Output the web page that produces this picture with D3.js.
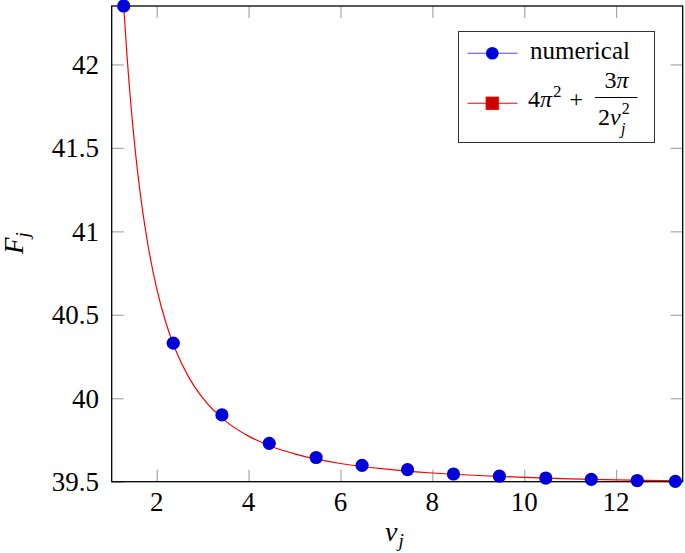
<!DOCTYPE html>
<html>
<head>
<meta charset="utf-8">
<script src="https://cdn.jsdelivr.net/npm/d3@7"></script>
<style>
  html, body { margin: 0; padding: 0; background: #fff; }
  svg { display: block; }
  text { font-family: "Liberation Serif", "DejaVu Serif", "Noto Serif", serif; fill: #000; }
</style>
</head>
<body>
<svg id="chart" width="685" height="553"></svg>
<script>
// ---- data ----
const nuValues = [1.281, 2.36, 3.42, 4.45, 5.47, 6.47, 7.46, 8.46, 9.46, 10.47, 11.46, 12.46, 13.29];
const numericalF = [42.35, 40.33, 39.90, 39.73, 39.645, 39.598, 39.572, 39.546, 39.533, 39.522, 39.514, 39.507, 39.502];

const curveNu = [1.281, 1.35, 1.4, 1.5, 1.6, 1.7, 1.8, 2.0, 2.2, 2.4, 2.7, 3.0, 3.5, 4.0, 4.5, 5.0, 6.0, 7.0, 8.0, 9.0, 10.0, 11.0, 12.0, 13.3];
const curveF = [42.350, 42.064, 41.883, 41.573, 41.319, 41.109, 40.933, 40.657, 40.452, 40.297, 40.125, 40.002, 39.863, 39.773, 39.711, 39.667, 39.609, 39.575, 39.552, 39.537, 39.526, 39.517, 39.511, 39.505];

const xTicks = [2, 4, 6, 8, 10, 12];
const yTicks = [39.5, 40, 40.5, 41, 41.5, 42];
const yTickLabels = ["39.5", "40", "40.5", "41", "41.5", "42"];
const seriesNames = ["numerical", "formula"];

// ---- layout ----
const svg = d3.select("#chart");
const L = 111.7, R = 682.7, T = 6, B = 481.7;
const x = d3.scaleLinear().domain([1.02, 13.45]).range([L, R]);
const y = d3.scaleLinear().domain([39.5, 42.35]).range([B, T]);
const tickLen = 12;
const tickColor = "#a8a8a8";
const FONT = '"Liberation Serif", "DejaVu Serif", "Noto Serif", serif';

const clipId = "plotclip";
svg.append("defs").append("clipPath").attr("id", clipId)
  .append("rect").attr("x", L).attr("y", T).attr("width", R - L).attr("height", B - T);

// ticks (all four sides, inward)
const gBottom = svg.append("g").attr("transform", `translate(0,${B})`)
  .call(d3.axisBottom(x).tickValues(xTicks).tickSizeInner(-tickLen).tickSizeOuter(0).tickFormat(""));
const gTop = svg.append("g").attr("transform", `translate(0,${T})`)
  .call(d3.axisTop(x).tickValues(xTicks).tickSizeInner(-tickLen).tickSizeOuter(0).tickFormat(""));
const gLeft = svg.append("g").attr("transform", `translate(${L},0)`)
  .call(d3.axisLeft(y).tickValues(yTicks).tickSizeInner(-tickLen).tickSizeOuter(0).tickFormat(""));
const gRight = svg.append("g").attr("transform", `translate(${R},0)`)
  .call(d3.axisRight(y).tickValues(yTicks).tickSizeInner(-tickLen).tickSizeOuter(0).tickFormat(""));
[gBottom, gTop, gLeft, gRight].forEach(g => {
  g.select(".domain").remove();
  g.selectAll(".tick line").attr("stroke", tickColor).attr("stroke-width", 1.2);
});

// tick labels
svg.append("g").selectAll("text").data(xTicks).join("text")
  .attr("x", d => x(d)).attr("y", 510.5)
  .attr("text-anchor", "middle").attr("font-size", 27).attr("font-family", FONT)
  .text(d => d);
svg.append("g").selectAll("text").data(yTicks).join("text")
  .attr("x", 99).attr("y", d => y(d) + 9.3)
  .attr("text-anchor", "end").attr("font-size", 27).attr("font-family", FONT)
  .text((d, i) => yTickLabels[i]);

// red analytic curve
const line = d3.line().x((d, i) => x(curveNu[i])).y(d => y(d)).curve(d3.curveMonotoneX);
svg.append("path").datum(curveF)
  .attr("clip-path", `url(#${clipId})`)
  .attr("d", line).attr("fill", "none").attr("stroke", "#ff0000").attr("stroke-width", 1.2);

// frame
svg.append("rect").attr("x", L).attr("y", T).attr("width", R - L).attr("height", B - T)
  .attr("fill", "none").attr("stroke", "#000").attr("stroke-width", 1.3);

// numerical markers
svg.append("g").selectAll("circle").data(numericalF).join("circle")
  .attr("cx", (d, i) => x(nuValues[i])).attr("cy", d => y(d))
  .attr("r", 6.6).attr("fill", "#0000d8");

// axis labels
const yl = svg.append("text").attr("transform", "translate(23,243) rotate(-90)")
  .attr("text-anchor", "middle").attr("font-size", 27).attr("font-style", "italic").attr("font-family", FONT);
yl.append("tspan").text("F");
yl.append("tspan").attr("font-size", 19).attr("dy", 6).text("j");

const xl = svg.append("text").attr("x", 385).attr("y", 541)
  .attr("font-size", 28).attr("font-style", "italic").attr("font-family", FONT);
xl.append("tspan").text("ν");
xl.append("tspan").attr("font-size", 19).attr("dy", 6).attr("dx", 1).text("j");

// legend
const lg = svg.append("g").attr("font-family", FONT);
lg.append("rect").attr("x", 458.5).attr("y", 31.5).attr("width", 196).attr("height", 111)
  .attr("fill", "#fff").attr("stroke", "#333").attr("stroke-width", 1);
lg.append("line").attr("x1", 467.5).attr("x2", 517.5).attr("y1", 53.3).attr("y2", 53.3)
  .attr("stroke", "#4a4aff").attr("stroke-width", 1.1);
lg.append("circle").attr("cx", 492.3).attr("cy", 53.3).attr("r", 6.3).attr("fill", "#0000d8");
lg.append("text").attr("x", 530).attr("y", 58.5).attr("font-size", 25).attr("font-family", FONT)
  .text(seriesNames[0]);

lg.append("line").attr("x1", 467.5).attr("x2", 517.5).attr("y1", 103.3).attr("y2", 103.3)
  .attr("stroke", "#ff0000").attr("stroke-width", 1.1);
lg.append("rect").attr("x", 486).attr("y", 97).attr("width", 12.6).attr("height", 12.6)
  .attr("fill", "#cc0000").attr("stroke", "#ff0000").attr("stroke-width", 0.8);

const f1 = lg.append("text").attr("x", 528).attr("y", 107).attr("font-size", 24).attr("font-family", FONT);
f1.append("tspan").text("4");
f1.append("tspan").attr("font-style", "italic").text("π");
f1.append("tspan").attr("font-size", 17).attr("dy", -10).attr("dx", 1).text("2");
f1.append("tspan").attr("dy", 10).attr("dx", 8).text("+");
const num = lg.append("text").attr("x", 616.5).attr("y", 88).attr("font-size", 24)
  .attr("text-anchor", "middle").attr("font-family", FONT);
num.append("tspan").text("3");
num.append("tspan").attr("font-style", "italic").text("π");
lg.append("line").attr("x1", 595).attr("x2", 637.5).attr("y1", 97.5).attr("y2", 97.5)
  .attr("stroke", "#000").attr("stroke-width", 1);
const den = lg.append("text").attr("x", 598).attr("y", 125).attr("font-size", 24).attr("font-family", FONT);
den.append("tspan").text("2");
den.append("tspan").attr("font-style", "italic").text("ν");
den.append("tspan").attr("font-size", 16).attr("dy", -11).attr("dx", 1).text("2");
den.append("tspan").attr("font-size", 16).attr("font-style", "italic")
  .attr("x", 621).attr("dy", 20).text("j");
</script>
</body>
</html>
